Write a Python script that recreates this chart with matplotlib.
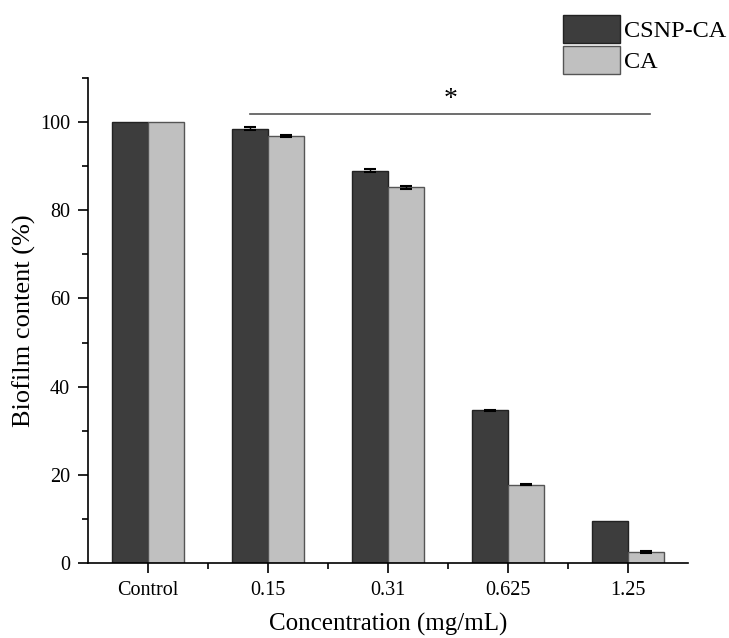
import matplotlib
matplotlib.use("Agg")
import matplotlib.pyplot as plt
from matplotlib.ticker import MultipleLocator, FixedLocator
from matplotlib.patches import Patch
import numpy as np

plt.rcParams['font.family'] = ['Liberation Serif', 'DejaVu Serif']

categories = ["Control", "0.15", "0.31", "0.625", "1.25"]
csnp_ca = [100.0, 98.5, 89.0, 34.6, 9.5]
csnp_err = [0.0, 0.3, 0.3, 0.2, 0.0]
ca = [100.0, 96.9, 85.2, 17.8, 2.5]
ca_err = [0.0, 0.2, 0.4, 0.2, 0.2]

fig = plt.figure(figsize=(7.29, 6.38), dpi=100)
ax = fig.add_axes([0.1207, 0.1176, 0.823, 0.760])

x = np.arange(len(categories))
w = 0.3
ax.bar(x - w/2, csnp_ca, w, color="#3d3d3d", edgecolor="#222222", linewidth=1.0)
ax.bar(x + w/2, ca, w, color="#c0c0c0", edgecolor="#555555", linewidth=1.0)

for xs, vals, errs in ((x - w/2, csnp_ca, csnp_err), (x + w/2, ca, ca_err)):
    vals = np.asarray(vals)
    errs = np.asarray(errs)
    m = errs > 0
    ax.errorbar(xs[m], vals[m], yerr=errs[m], fmt="none", ecolor="black",
                capsize=4, elinewidth=1, capthick=1.5)

ax.set_xlim(-0.5, 4.5)
ax.set_ylim(0, 110)
ax.set_xticks(x)
ax.set_xticklabels(categories)
ax.xaxis.set_minor_locator(FixedLocator(x[:-1] + 0.5))
ax.set_yticks([0, 20, 40, 60, 80, 100])
ax.yaxis.set_minor_locator(MultipleLocator(10))
ax.tick_params(axis='both', which='major', direction='out', length=7, width=1.2,
               labelsize=14.5, pad=6)
ax.tick_params(axis='both', which='minor', direction='out', length=4.5, width=1.2)
ax.spines['top'].set_visible(False)
ax.spines['right'].set_visible(False)
ax.spines['left'].set_linewidth(1.2)
ax.spines['bottom'].set_linewidth(1.2)

ax.set_xlabel("Concentration (mg/mL)", fontsize=18, labelpad=9)
ax.set_ylabel("Biofilm content (%)", fontsize=19, labelpad=3)

# significance line
ax.plot([0.85, 4.18], [101.8, 101.8], color="#555555", linewidth=1.2)
ax.text(2.52, 102.3, "*", ha="center", va="bottom", fontsize=20)

handles = [Patch(facecolor="#3d3d3d", edgecolor="#222222", label="CSNP-CA"),
           Patch(facecolor="#c0c0c0", edgecolor="#555555", label="CA")]
fig.legend(handles=handles, loc="upper left", bbox_to_anchor=(0.772, 0.9765),
           frameon=False, fontsize=17.5, handlelength=2.35, handleheight=1.395,
           handletextpad=0.17, labelspacing=0.12, borderpad=0.0, borderaxespad=0.0)

fig.savefig("out.png", dpi=100)
